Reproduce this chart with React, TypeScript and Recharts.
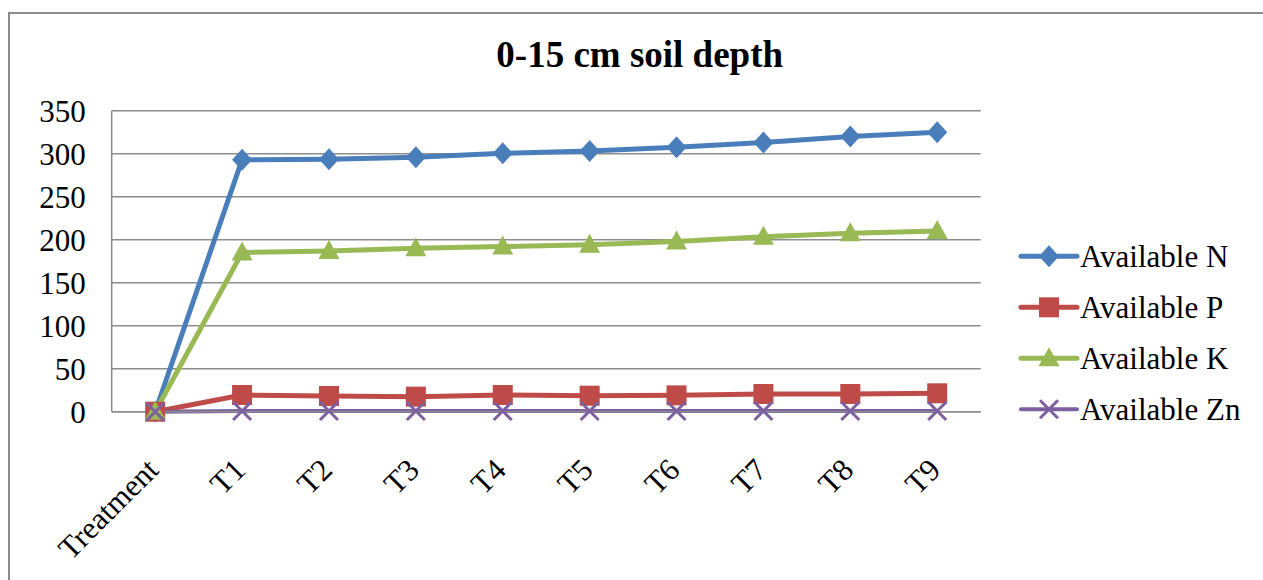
import React from 'react';
import { LineChart, Line, XAxis, YAxis, CartesianGrid } from 'recharts';

const categories = ['Treatment', 'T1', 'T2', 'T3', 'T4', 'T5', 'T6', 'T7', 'T8', 'T9'];
const availableN = [0, 293, 293.5, 296, 300.5, 303, 307.5, 313, 320, 325];
const availableP = [0, 19.4, 18.3, 17.5, 19.4, 18.6, 19, 20.6, 20.6, 21.4];
const availableK = [0, 185, 187, 190, 192, 194, 198, 203.5, 207.5, 210];
const availableZn = [0, 0.8, 0.8, 0.8, 0.8, 0.8, 0.8, 0.8, 0.8, 0.8];
const yTicks = [0, 50, 100, 150, 200, 250, 300, 350];

const series = [
  { key: 'N', name: 'Available N', color: '#4A7EBB', shape: 'diamond', width: 5 },
  { key: 'P', name: 'Available P', color: '#BE4B48', shape: 'square', width: 5 },
  { key: 'K', name: 'Available K', color: '#98B954', shape: 'triangle', width: 5 },
  { key: 'Zn', name: 'Available Zn', color: '#7D60A0', shape: 'cross', width: 4 },
];

const data = categories.map((name, i) => ({
  name,
  N: availableN[i],
  P: availableP[i],
  K: availableK[i],
  Zn: availableZn[i],
}));

const FONT = '"Liberation Serif", "Times New Roman", serif';
const GRID = '#8c8c8c';

function marker(shape: string, color: string, cx: number, cy: number, key?: any) {
  if (shape === 'diamond') {
    return <path key={key} d={`M${cx},${cy - 11}L${cx + 10},${cy}L${cx},${cy + 11}L${cx - 10},${cy}Z`} fill={color} />;
  }
  if (shape === 'square') {
    return <rect key={key} x={cx - 10} y={cy - 10} width={20} height={20} fill={color} />;
  }
  if (shape === 'triangle') {
    return <path key={key} d={`M${cx},${cy - 11}L${cx + 10.5},${cy + 8}L${cx - 10.5},${cy + 8}Z`} fill={color} />;
  }
  return (
    <path key={key} d={`M${cx - 9},${cy - 9}L${cx + 9},${cy + 9}M${cx + 9},${cy - 9}L${cx - 9},${cy + 9}`}
      stroke={color} strokeWidth={3} fill="none" />
  );
}

const makeDot = (shape: string, color: string) => (props: any) => {
  const { cx, cy, index } = props;
  if (cx == null || cy == null) return <g key={index} />;
  return marker(shape, color, cx, cy, index);
};

const XTick = (props: any) => {
  const { x, y, payload } = props;
  return (
    <g transform={`translate(${x + 5},${y + 52})`}>
      <text x={0} y={0} textAnchor="end" transform="rotate(-45)" fill="#000"
        fontFamily={FONT} fontSize={31}>
        {payload.value}
      </text>
    </g>
  );
};

export default function App() {
  return (
    <div style={{ position: 'absolute', left: 0, top: 0, width: 1263, height: 580, overflow: 'hidden' }}>
      <div style={{
        position: 'absolute', left: 8, top: 12, width: 1255, height: 568,
        borderLeft: `2px solid ${GRID}`, borderTop: `2px solid ${GRID}`, boxSizing: 'border-box',
      }} />
      <div style={{ position: 'absolute', left: 10, top: 14 }}>
        <LineChart width={1253} height={566} data={data}
          margin={{ top: 96.7, right: 282.3, left: 0, bottom: 0 }}>
          <CartesianGrid vertical={false} stroke={GRID} strokeWidth={1.5} />
          <XAxis dataKey="name" interval={0} padding={{ left: 43.5, right: 43.5 }}
            axisLine={{ stroke: GRID, strokeWidth: 1.5 }} tickLine={false} height={168.3}
            tick={<XTick />} />
          <YAxis domain={[0, 350]} ticks={yTicks} width={101.7}
            axisLine={{ stroke: GRID, strokeWidth: 1.5 }} tickLine={false} tickSize={0} tickMargin={26}
            tick={{ fill: '#000', fontFamily: FONT, fontSize: 31 }} />
          {series.map((s) => (
            <Line key={s.key} type="linear" dataKey={s.key} name={s.name} stroke={s.color}
              strokeWidth={s.width} dot={makeDot(s.shape, s.color)} activeDot={false}
              isAnimationActive={false} />
          ))}
        </LineChart>
      </div>
      <svg style={{ position: 'absolute', left: 0, top: 0 }} width={1263} height={580}>
        <text x={639.7} y={67} textAnchor="middle" fontFamily={FONT} fontWeight="bold" fontSize={37} fill="#000">
          0-15 cm soil depth
        </text>
        {series.map((s, i) => {
          const cy = 256.3 + i * 51;
          return (
            <g key={s.key}>
              <line x1={1021} x2={1077} y1={cy} y2={cy} stroke={s.color} strokeWidth={s.width} strokeLinecap="round" />
              {marker(s.shape, s.color, 1049, cy)}
              <text x={1080} y={cy + 10.5} fontFamily={FONT} fontSize={31} fill="#000">{s.name}</text>
            </g>
          );
        })}
      </svg>
    </div>
  );
}
